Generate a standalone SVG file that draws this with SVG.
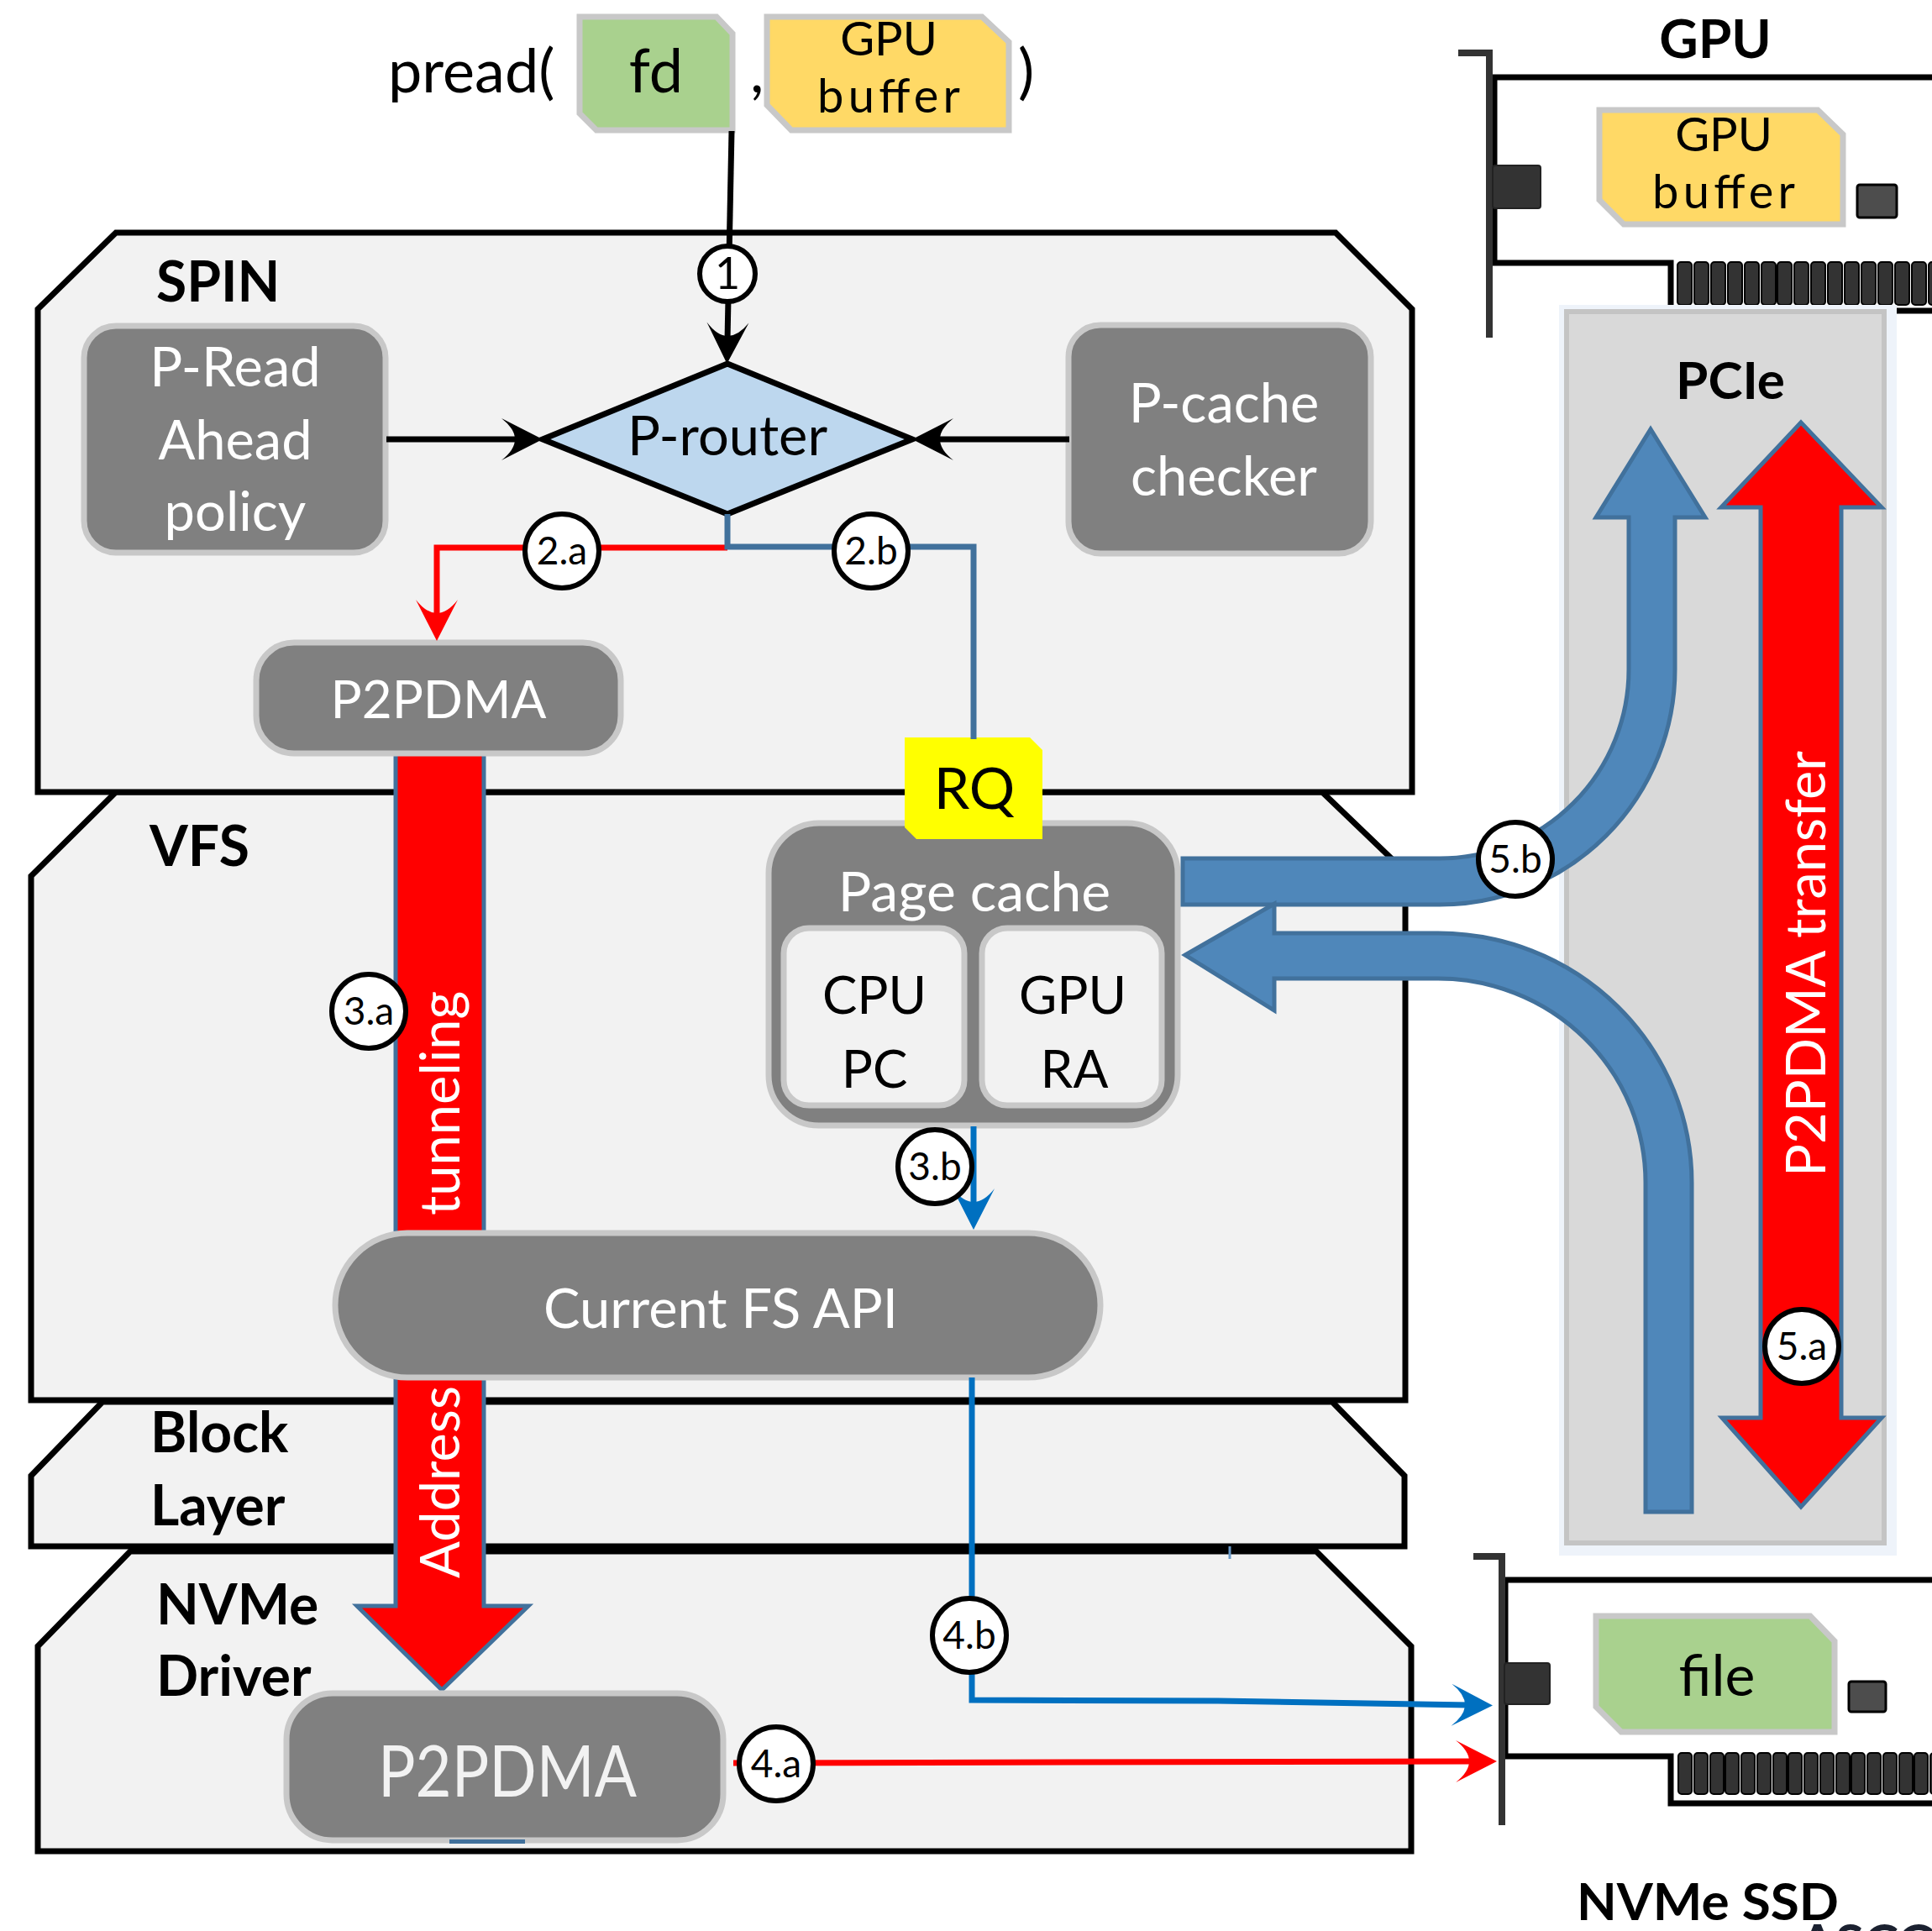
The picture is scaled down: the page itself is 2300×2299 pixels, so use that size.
<svg xmlns="http://www.w3.org/2000/svg" width="2300" height="2299" viewBox="0 0 2300 2299">
<defs>
<style>
.t{font-family:Lato,"Open Sans","Liberation Sans",sans-serif}
.b{font-weight:700}
.c{text-anchor:middle}
.w{fill:#fff}
.layer{fill:#F2F2F2;stroke:#000;stroke-width:7;stroke-linejoin:miter}
.lt{font-size:66px;font-weight:700;fill:#000}
.gnode{fill:#808080;stroke:#C8C8C8;stroke-width:7}
.inner{fill:#F2F2F2;stroke:#C8C8C8;stroke-width:7}
.green{fill:#A9D18E;stroke:#C8C8C8;stroke-width:7}
.yellow{fill:#FFD966;stroke:#C8C8C8;stroke-width:7}
.conn{fill:none;stroke-width:7}
.k{stroke:#000}
.r{stroke:#FF0000}
.sb{stroke:#41719C}
.bb{stroke:#0070C0}
.bigblue{fill:#4F87BA;stroke:#41719C;stroke-width:5}
.bigred{fill:#FF0000;stroke:#41719C;stroke-width:5}
.pin{fill:#333;stroke:#000;stroke-width:2}
.bracket{fill:none;stroke:#333;stroke-width:8}
.card{fill:#fff;stroke:#000;stroke-width:7}
.blk{fill:#333;stroke:#222;stroke-width:2}
.sq{fill:#4D4D4D;stroke:#000;stroke-width:3}
.badge circle{fill:#fff;stroke:#000;stroke-width:6}
.badge text{font-family:Lato,"Open Sans","Liberation Sans",sans-serif;font-size:46px;text-anchor:middle;fill:#000}
</style>
<marker id="ah-k" viewBox="-22 -26 52 52" refX="0" refY="0" markerWidth="52" markerHeight="52" markerUnits="userSpaceOnUse" orient="auto" overflow="visible">
<path d="M28,0 L-21,-25 Q11,0 -21,25 Z" fill="#000"/>
</marker>
<marker id="ah-r" viewBox="-22 -26 52 52" refX="0" refY="0" markerWidth="52" markerHeight="52" markerUnits="userSpaceOnUse" orient="auto" overflow="visible">
<path d="M28,0 L-21,-25 Q11,0 -21,25 Z" fill="#FF0000"/>
</marker>
<marker id="ah-b" viewBox="-22 -26 52 52" refX="0" refY="0" markerWidth="52" markerHeight="52" markerUnits="userSpaceOnUse" orient="auto" overflow="visible">
<path d="M28,0 L-21,-25 Q11,0 -21,25 Z" fill="#0070C0"/>
</marker>
</defs>

<rect x="0" y="0" width="2300" height="2299" fill="#fff"/>

<g id="layers">
<g id="layer-nvme"><polygon class="layer" points="155,1847 1567,1847 1680,1960 1680,2204 45,2204 45,1960"/>
<text class="t lt" x="186" y="1934">NVMe<tspan x="186" y="2019">Driver</tspan></text></g>
<g id="layer-block"><polygon class="layer" points="122,1669 1586,1669 1672,1757 1672,1841 37,1841 37,1757"/>
<text class="t lt" x="179" y="1729">Block<tspan x="179" y="1816">Layer</tspan></text></g>
<g id="layer-vfs"><polygon class="layer" points="138,943 1574,943 1673,1038 1673,1667 37,1667 37,1043"/>
<text class="t lt" x="178" y="1031">VFS</text></g>
<g id="layer-spin"><polygon class="layer" points="138,277 1590,277 1681,368 1681,943 45,943 45,368"/>
<text class="t lt" x="186" y="359">SPIN</text></g>
<line x1="1464" y1="1841" x2="1464" y2="1856" stroke="#6A9AC8" stroke-width="3"/>
</g>

<g id="gpu-card">
<polygon class="card" points="1779,92 2310,92 2310,370 1989,370 1989,313 1779,313"/>
<path class="bracket" d="M1736,63 H1773 V402"/>
<rect class="blk" x="1777" y="197" width="57" height="51" rx="3"/>
<rect class="sq" x="2211" y="220" width="47" height="39" rx="3"/>
<g>
<rect class="pin" x="1997" y="312" width="17" height="51" rx="4"/>
<rect class="pin" x="2017" y="312" width="17" height="51" rx="4"/>
<rect class="pin" x="2037" y="312" width="17" height="51" rx="4"/>
<rect class="pin" x="2057" y="312" width="17" height="51" rx="4"/>
<rect class="pin" x="2077" y="312" width="17" height="51" rx="4"/>
<rect class="pin" x="2097" y="312" width="17" height="51" rx="4"/>
<rect class="pin" x="2116" y="312" width="17" height="51" rx="4"/>
<rect class="pin" x="2136" y="312" width="17" height="51" rx="4"/>
<rect class="pin" x="2156" y="312" width="17" height="51" rx="4"/>
<rect class="pin" x="2176" y="312" width="17" height="51" rx="4"/>
<rect class="pin" x="2196" y="312" width="17" height="51" rx="4"/>
<rect class="pin" x="2216" y="312" width="17" height="51" rx="4"/>
<rect class="pin" x="2236" y="312" width="17" height="51" rx="4"/>
<rect class="pin" x="2256" y="312" width="17" height="51" rx="4"/>
<rect class="pin" x="2276" y="312" width="17" height="51" rx="4"/>
<rect class="pin" x="2296" y="312" width="17" height="51" rx="4"/>
</g>
<text class="t b c" x="2042" y="69" font-size="64">GPU</text>
</g>

<g id="gpu-buffer-card">
<polygon class="yellow" points="1904,131 2164,131 2194,160 2194,267 1933,267 1904,238"/>
<text class="t c" x="2052" y="180" font-size="56">GPU<tspan x="2052" y="248" textLength="170">buffer</tspan></text>
</g>

<g id="nvme-card">
<polygon class="card" points="1792,1881 2310,1881 2310,2147 1989,2147 1989,2091 1792,2091"/>
<path class="bracket" d="M1754,1853 H1788 V2173"/>
<rect class="blk" x="1791" y="1980" width="54" height="49" rx="3"/>
<rect class="sq" x="2201" y="2002" width="44" height="36" rx="3"/>
<g>
<rect class="pin" x="1998" y="2087" width="16" height="49" rx="4"/>
<rect class="pin" x="2017" y="2087" width="16" height="49" rx="4"/>
<rect class="pin" x="2036" y="2087" width="16" height="49" rx="4"/>
<rect class="pin" x="2054" y="2087" width="16" height="49" rx="4"/>
<rect class="pin" x="2073" y="2087" width="16" height="49" rx="4"/>
<rect class="pin" x="2092" y="2087" width="16" height="49" rx="4"/>
<rect class="pin" x="2111" y="2087" width="16" height="49" rx="4"/>
<rect class="pin" x="2129" y="2087" width="16" height="49" rx="4"/>
<rect class="pin" x="2148" y="2087" width="16" height="49" rx="4"/>
<rect class="pin" x="2167" y="2087" width="16" height="49" rx="4"/>
<rect class="pin" x="2186" y="2087" width="16" height="49" rx="4"/>
<rect class="pin" x="2204" y="2087" width="16" height="49" rx="4"/>
<rect class="pin" x="2223" y="2087" width="16" height="49" rx="4"/>
<rect class="pin" x="2242" y="2087" width="16" height="49" rx="4"/>
<rect class="pin" x="2261" y="2087" width="16" height="49" rx="4"/>
<rect class="pin" x="2279" y="2087" width="16" height="49" rx="4"/>
<rect class="pin" x="2298" y="2087" width="16" height="49" rx="4"/>
</g>
<text class="t b" x="1877" y="2286" font-size="62">NVMe SSD</text>
<text class="t b" x="2142" y="2335" font-size="62" fill="#1B2130">ASCO</text>
</g>

<g id="file-tag">
<polygon class="green" points="1900,1924 2155,1924 2184,1954 2184,2062 1930,2062 1900,2032"/>
<text class="t c" x="2044" y="2019" font-size="68">file</text>
</g>

<g id="pcie">
<rect x="1856" y="363" width="402" height="1489" fill="#EEF3FA"/>
<rect x="1865" y="371" width="378" height="1466" fill="#D9D9D9" stroke="#C4C4C4" stroke-width="6"/>
<text class="t b c" x="2060" y="475" font-size="62">PCIe</text>
</g>

<g id="connectors-under">
<polygon class="bigred" points="471,896 576,896 576,1912 629,1912 526,2012 425,1912 471,1912"/>
<text class="t w" font-size="65" transform="translate(547,1879) rotate(-90)">Address</text>
<text class="t w" font-size="65" transform="translate(547,1447) rotate(-90)">tunneling</text>
</g>

<g id="pread-call">
<text class="t" x="462" y="110" font-size="72">pread(</text>
<text class="t" x="893" y="110" font-size="72">,</text>
<text class="t" x="1212" y="110" font-size="72">)</text>
</g>
<g id="fd-tag">
<polygon class="green" points="690,20 853,20 872,40 872,155 710,155 690,135"/>
<text class="t c" x="781" y="110" font-size="72">fd</text>
</g>
<g id="gpu-buffer-arg">
<polygon class="yellow" points="913,20 1169,20 1201,50 1201,155 942,155 913,125"/>
<text class="t c" x="1058" y="66" font-size="56">GPU<tspan x="1058" y="134" textLength="170">buffer</tspan></text>
</g>

<g id="p-read-ahead">
<rect class="gnode" x="100" y="388" width="359" height="270" rx="38"/>
<text class="t c w" x="280" y="460" font-size="65">P-Read<tspan x="280" y="547">Ahead</tspan><tspan x="280" y="632">policy</tspan></text>
</g>
<g id="p-cache-checker">
<rect class="gnode" x="1272" y="387" width="360" height="272" rx="38"/>
<text class="t c w" x="1457" y="503" font-size="65">P-cache<tspan x="1457" y="590">checker</tspan></text>
</g>
<g id="p-router">
<polygon points="646,523 866,433 1086,523 866,612" fill="#BDD7EE" stroke="#000" stroke-width="7"/>
<text class="t c" x="866" y="542" font-size="65">P-router</text>
</g>
<g id="p2pdma-spin">
<rect class="gnode" x="305" y="765" width="434" height="132" rx="45"/>
<text class="t c w" x="522" y="855" font-size="62">P2PDMA</text>
</g>
<g id="page-cache">
<rect class="gnode" x="915" y="980" width="487" height="360" rx="60"/>
<text class="t c w" x="1160" y="1085" font-size="66">Page cache</text>
<rect class="inner" x="933" y="1105" width="215" height="211" rx="30"/>
<text class="t c" x="1041" y="1207" font-size="62">CPU<tspan x="1041" y="1295">PC</tspan></text>
<rect class="inner" x="1169" y="1105" width="214" height="211" rx="30"/>
<text class="t c" x="1277" y="1207" font-size="62">GPU<tspan x="1279" y="1295">RA</tspan></text>
</g>
<g id="rq">
<polygon points="1077,878 1226,878 1241,893 1241,999 1091,999 1077,985" fill="#FFFF00"/>
<text class="t c" x="1160" y="963" font-size="68">RQ</text>
</g>
<g id="current-fs-api">
<rect class="gnode" x="399" y="1468" width="911" height="172" rx="86"/>
<text class="t c w" x="858" y="1581" font-size="65">Current FS API</text>
</g>
<g id="p2pdma-nvme">
<rect class="gnode" x="341" y="2016" width="520" height="175" rx="55"/>
<text class="t" x="450" y="2139" font-size="86" fill="#F2F2F2" textLength="308" lengthAdjust="spacingAndGlyphs">P2PDMA</text>
<rect x="535" y="2190" width="90" height="5" fill="#41719C"/>
</g>

<g id="connectors">
<path class="conn k" d="M871,156 L866,405" marker-end="url(#ah-k)"/>
<path class="conn k" d="M460,523 H618" marker-end="url(#ah-k)"/>
<path class="conn k" d="M1273,523 H1114" marker-end="url(#ah-k)"/>
<path class="conn r" d="M866,652 H520 V735" marker-end="url(#ah-r)"/>
<path class="conn sb" d="M866,612 V651 H1159 V880"/>
<path class="conn bb" d="M1159,1341 V1436" marker-end="url(#ah-b)"/>
<path class="conn bb" d="M1157,1640 V2024 L1450,2025 L1749,2030" marker-end="url(#ah-b)"/>
<path class="conn r" d="M873,2099 L1754,2097" marker-end="url(#ah-r)"/>
<path class="bigblue" d="M1408,1022 H1714 A225,225 0 0 0 1939,797 V616 H1900 L1965,511 L2030,616 H1994 V797 A280,280 0 0 1 1714,1077 H1408 Z"/>
<path class="bigblue" d="M1411,1137 L1517,1076 V1111 H1712 A302,297 0 0 1 2014,1408 V1800 H1959 V1408 A247,243 0 0 0 1712,1165 H1517 V1203 Z"/>
<path class="bigred" d="M2144,503 L2240,604 H2192 V1688 H2240 L2144,1794 L2050,1688 H2096 V604 H2049 Z"/>
<text class="t w" font-size="65" transform="translate(2173,1401) rotate(-90)">P2PDMA transfer</text>
</g>

<g id="badges">
<g class="badge"><circle cx="866" cy="326" r="33"/><text x="866" y="344" style="font-size:52px">1</text></g>
<g class="badge"><circle cx="669" cy="656" r="44"/><text x="669" y="672">2.a</text></g>
<g class="badge"><circle cx="1037" cy="656" r="44"/><text x="1037" y="672">2.b</text></g>
<g class="badge"><circle cx="439" cy="1204" r="44"/><text x="439" y="1220">3.a</text></g>
<g class="badge"><circle cx="1113" cy="1389" r="44"/><text x="1113" y="1405">3.b</text></g>
<g class="badge"><circle cx="1154" cy="1947" r="44"/><text x="1154" y="1963">4.b</text></g>
<g class="badge"><circle cx="924" cy="2100" r="44"/><text x="924" y="2116">4.a</text></g>
<g class="badge"><circle cx="1804" cy="1023" r="44"/><text x="1804" y="1039">5.b</text></g>
<g class="badge"><circle cx="2145" cy="1603" r="44"/><text x="2145" y="1619">5.a</text></g>
</g>
</svg>
